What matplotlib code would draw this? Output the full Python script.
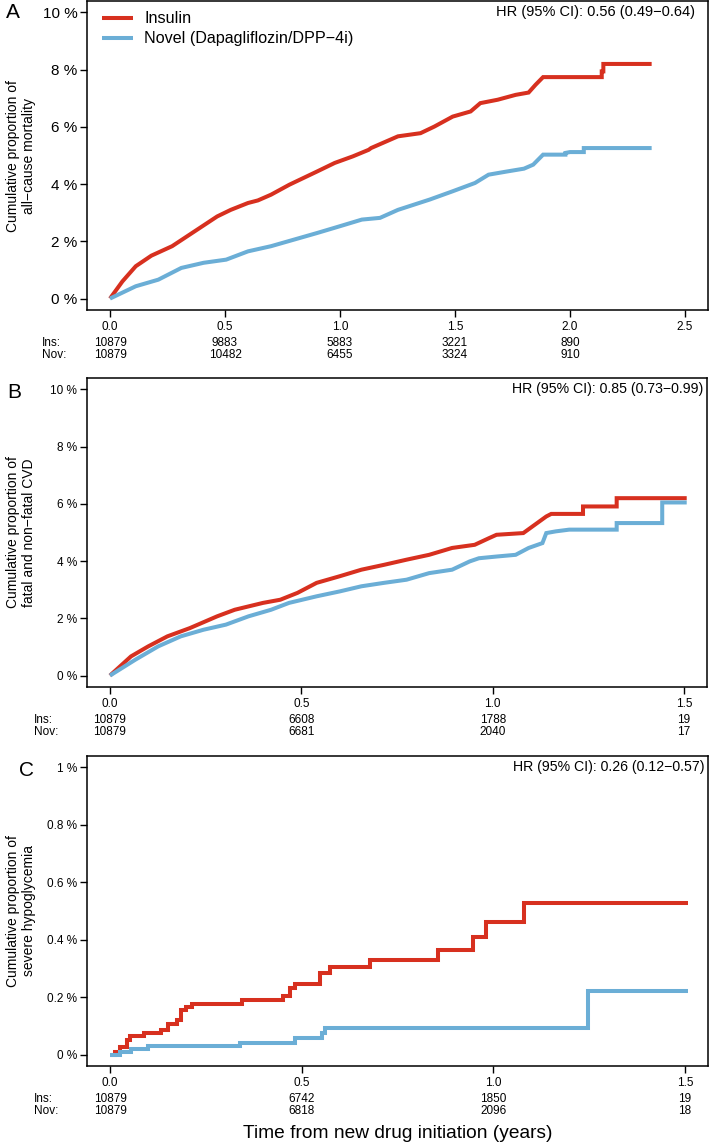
import matplotlib
matplotlib.use("Agg")
import matplotlib.pyplot as plt
from matplotlib import font_manager

# ---------------- data ----------------
# Panel A: all-cause mortality (years, cumulative %)
a_ins_t = [0, 0.054, 0.112, 0.18, 0.27, 0.368, 0.466, 0.525, 0.60, 0.643, 0.70, 0.78, 0.90, 0.977,
           1.056, 1.125, 1.135, 1.252, 1.35, 1.41, 1.49, 1.568, 1.61, 1.686, 1.764, 1.82, 1.85,
           1.883, 2.138, 2.138, 2.145, 2.145, 2.355]
a_ins_y = [0, 0.6, 1.13, 1.5, 1.83, 2.35, 2.87, 3.1, 3.34, 3.43, 3.63, 3.98, 4.44, 4.74,
           4.97, 5.2, 5.26, 5.67, 5.78, 6.01, 6.36, 6.54, 6.83, 6.95, 7.12, 7.2, 7.47,
           7.74, 7.74, 7.94, 7.94, 8.2, 8.2]
a_nov_t = [0, 0.112, 0.21, 0.31, 0.407, 0.505, 0.60, 0.70, 0.80, 0.90, 0.996, 1.095, 1.174, 1.252,
           1.39, 1.49, 1.587, 1.646, 1.725, 1.80, 1.84, 1.883, 1.98, 1.98, 2.0, 2.06, 2.06, 2.355]
a_nov_y = [0, 0.43, 0.66, 1.07, 1.25, 1.36, 1.65, 1.83, 2.06, 2.29, 2.52, 2.76, 2.82, 3.1,
           3.46, 3.75, 4.04, 4.33, 4.44, 4.54, 4.68, 5.03, 5.03, 5.09, 5.12, 5.12, 5.26, 5.26]

# Panel B: fatal and non-fatal CVD
b_ins_t = [0, 0.055, 0.10, 0.15, 0.209, 0.28, 0.326, 0.40, 0.445, 0.49, 0.54, 0.60, 0.657, 0.716,
           0.775, 0.834, 0.894, 0.953, 0.99, 1.01, 1.08, 1.11, 1.14, 1.153, 1.236, 1.236, 1.324,
           1.324, 1.507]
b_ins_y = [0, 0.67, 1.02, 1.37, 1.66, 2.07, 2.30, 2.54, 2.65, 2.89, 3.24, 3.47, 3.70, 3.87,
           4.05, 4.22, 4.46, 4.57, 4.8, 4.92, 4.98, 5.27, 5.56, 5.65, 5.65, 5.91, 5.91,
           6.2, 6.2]
b_nov_t = [0, 0.067, 0.126, 0.185, 0.244, 0.303, 0.362, 0.421, 0.468, 0.54, 0.60, 0.657, 0.716,
           0.775, 0.834, 0.894, 0.94, 0.964, 1.01, 1.06, 1.094, 1.13, 1.14, 1.165, 1.2, 1.324,
           1.324, 1.443, 1.443, 1.507]
b_nov_y = [0, 0.56, 1.02, 1.37, 1.6, 1.78, 2.07, 2.30, 2.54, 2.77, 2.94, 3.12, 3.24,
           3.35, 3.58, 3.70, 3.99, 4.1, 4.16, 4.22, 4.46, 4.63, 4.98, 5.04, 5.1, 5.1,
           5.33, 5.33, 6.05, 6.05]

# Panel C: severe hypoglycemia (step function, post)
c_ins_t = [0, 0.012, 0.026, 0.044, 0.052, 0.088, 0.132, 0.15, 0.174, 0.185, 0.197, 0.215, 0.345,
           0.451, 0.469, 0.483, 0.548, 0.575, 0.678, 0.856, 0.947, 0.982, 1.08, 1.507]
c_ins_y = [0, 0.009, 0.026, 0.049, 0.066, 0.075, 0.086, 0.107, 0.121, 0.154, 0.165, 0.175, 0.189,
           0.203, 0.233, 0.247, 0.284, 0.305, 0.329, 0.364, 0.41, 0.461, 0.527, 0.527]
c_nov_t = [0, 0.026, 0.055, 0.1, 0.339, 0.483, 0.553, 0.56, 1.248, 1.507]
c_nov_y = [0, 0.008, 0.02, 0.029, 0.041, 0.057, 0.076, 0.093, 0.221, 0.221]

# Risk tables
a_risk_t = [0.0, 0.5, 1.0, 1.5, 2.0]
a_risk_ins = ["10879", "9883", "5883", "3221", "890"]
a_risk_nov = ["10879", "10482", "6455", "3324", "910"]
b_risk_t = [0.0, 0.5, 1.0, 1.5]
b_risk_ins = ["10879", "6608", "1788", "19"]
b_risk_nov = ["10879", "6681", "2040", "17"]
c_risk_t = [0.0, 0.5, 1.0, 1.5]
c_risk_ins = ["10879", "6742", "1850", "19"]
c_risk_nov = ["10879", "6818", "2096", "18"]

a_yticks = [0, 2, 4, 6, 8, 10]
a_yticklabels = ["0 %", "2 %", "4 %", "6 %", "8 %", "10 %"]
c_yticks = [0, 0.2, 0.4, 0.6, 0.8, 1.0]
c_yticklabels = ["0 %", "0.2 %", "0.4 %", "0.6 %", "0.8 %", "1 %"]
a_xticks = [0.0, 0.5, 1.0, 1.5, 2.0, 2.5]
bc_xticks = [0.0, 0.5, 1.0, 1.5]

hr_texts = ["HR (95% CI): 0.56 (0.49\u22120.64)",
            "HR (95% CI): 0.85 (0.73\u22120.99)",
            "HR (95% CI): 0.26 (0.12\u22120.57)"]
ylabels = ["Cumulative proportion of\nall\u2212cause mortality",
           "Cumulative proportion of\nfatal and non\u2212fatal CVD",
           "Cumulative proportion of\nsevere hypoglycemia"]
legend_labels = ["Insulin", "Novel (Dapagliflozin/DPP\u22124i)"]
xlabel = "Time from new drug initiation (years)"

# ---------------- style ----------------
names = {f.name for f in font_manager.fontManager.ttflist}
fam = "Liberation Sans Narrow" if "Liberation Sans Narrow" in names else "Liberation Sans"
plt.rcParams["font.family"] = [fam, "DejaVu Sans"]

RED = "#d7301f"
BLUE = "#6baed6"
LW = 2.9

W, H = 709, 1144
fig = plt.figure(figsize=(W / 100, H / 100), dpi=100)


def px_axes(l, t, r, b):
    return [l / W, 1 - b / H, (r - l) / W, (b - t) / H]


boxes = [(87, 1, 708, 310), (87, 378, 707, 687), (87, 756, 708, 1066)]
axes = [fig.add_axes(px_axes(*bx)) for bx in boxes]

curves = [
    (a_ins_t, a_ins_y, a_nov_t, a_nov_y, "default"),
    (b_ins_t, b_ins_y, b_nov_t, b_nov_y, "default"),
    (c_ins_t, c_ins_y, c_nov_t, c_nov_y, "steps-post"),
]
risk = [(a_risk_t, a_risk_ins, a_risk_nov), (b_risk_t, b_risk_ins, b_risk_nov),
        (c_risk_t, c_risk_ins, c_risk_nov)]
ylims = [(-0.4, 10.4), (-0.4, 10.4), (-0.04, 1.04)]
xlims = [(-0.1, 2.6), (-0.06, 1.56), (-0.06, 1.56)]
yt = [(a_yticks, a_yticklabels), (a_yticks, a_yticklabels), (c_yticks, c_yticklabels)]
xt = [a_xticks, bc_xticks, bc_xticks]
ytick_fs = [11, 8.5, 8.5]
hr_fs = [10.5, 10.2, 10.2]
hr_x = [0.979, 0.994, 0.994]
letters = ["A", "B", "C"]
letter_pos = [(13, 13), (14, 392), (26, 770)]
ins_label_x = [42, 34, 34]

for i, ax in enumerate(axes):
    ti, yi, tn, yn, ds = curves[i]
    l1, = ax.plot(ti, yi, color=RED, lw=LW, drawstyle=ds, solid_capstyle="butt",
                  solid_joinstyle="miter")
    l2, = ax.plot(tn, yn, color=BLUE, lw=LW, drawstyle=ds, solid_capstyle="butt",
                  solid_joinstyle="miter")
    ax.set_xlim(*xlims[i])
    ax.set_ylim(*ylims[i])
    ax.set_yticks(yt[i][0])
    ax.set_yticklabels(yt[i][1])
    ax.set_xticks(xt[i])
    ax.set_xticklabels([f"{v:.1f}" for v in xt[i]])
    for s in ax.spines.values():
        s.set_linewidth(1.1)
    ax.tick_params(axis="both", direction="out", length=5, width=1.0)
    ax.tick_params(axis="y", labelsize=ytick_fs[i], pad=2)
    ax.tick_params(axis="x", labelsize=8.5, pad=3)
    ax.text(hr_x[i], yt[i][0][-1], hr_texts[i], transform=ax.get_yaxis_transform(),
            ha="right", va="center", fontsize=hr_fs[i])
    # risk table
    rt, rins, rnov = risk[i]
    bx = boxes[i]
    y_ins = 1 - (bx[3] + 33) / H
    y_nov = 1 - (bx[3] + 45) / H
    trans = matplotlib.transforms.blended_transform_factory(ax.transData, fig.transFigure)
    for t, a, b in zip(rt, rins, rnov):
        ax.text(t, y_ins, a, transform=trans, ha="center", va="center", fontsize=8.5)
        ax.text(t, y_nov, b, transform=trans, ha="center", va="center", fontsize=8.5)
    fig.text(ins_label_x[i] / W, y_ins, "Ins:", ha="left", va="center", fontsize=8.5)
    fig.text(ins_label_x[i] / W, y_nov, "Nov:", ha="left", va="center", fontsize=8.5)
    # y label
    yc = 1 - (bx[1] + bx[3]) / 2 / H
    fig.text(21 / W, yc, ylabels[i], rotation=90, ha="center", va="center",
             multialignment="center", fontsize=10, linespacing=1.15)
    # panel letter
    fig.text(letter_pos[i][0] / W, 1 - letter_pos[i][1] / H, letters[i], ha="center",
             va="center", fontsize=15)
    if i == 0:
        ax.legend([l1, l2], legend_labels, loc="upper left", bbox_to_anchor=(0.008, 1.0),
                  frameon=False, fontsize=11.6, handlelength=1.9, handletextpad=0.7,
                  labelspacing=0.3, borderaxespad=0.25)

fig.text(398 / W, 1 - 1133 / H, xlabel, ha="center", va="center", fontsize=13.8)

fig.savefig("out.png", dpi=100)
